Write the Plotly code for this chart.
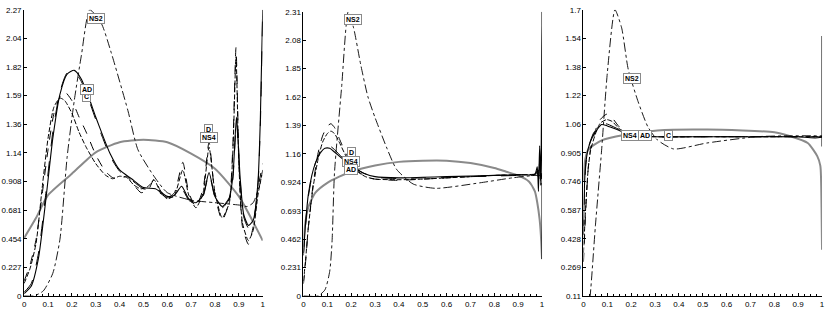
import plotly.graph_objects as go

# ---------------- data ----------------
# Panel 1
P1_X_EXACT = [0, 0.05, 0.1, 0.2, 0.3, 0.4, 0.5, 0.6, 0.7, 0.8, 0.9, 1.0]
P1_Y_EXACT = [0.46, 0.62, 0.80, 0.97, 1.14, 1.22, 1.24, 1.22, 1.13, 1.01, 0.79, 0.44]

P1_X_C = [0, 0.03, 0.06, 0.09, 0.12, 0.15, 0.18, 0.21, 0.24, 0.27, 0.30, 0.33, 0.36, 0.40, 0.45, 0.50,
          0.55, 0.60, 0.63, 0.66, 0.69, 0.72, 0.75, 0.775, 0.80, 0.83, 0.86, 0.875, 0.89, 0.905, 0.92,
          0.94, 0.96, 0.98, 0.99, 1.0]
P1_Y_C = [0.02, 0.08, 0.30, 0.75, 1.25, 1.60, 1.76, 1.79, 1.72, 1.58, 1.42, 1.27, 1.13, 1.00, 0.93, 0.86,
          0.85, 0.79, 0.80, 0.87, 0.77, 0.74, 0.80, 0.98, 0.79, 0.71, 0.78, 0.95, 1.42, 0.95, 0.65,
          0.56, 0.60, 0.90, 1.40, 2.27]
P1_Y_AD = [0.03, 0.10, 0.34, 0.80, 1.30, 1.62, 1.77, 1.78, 1.70, 1.56, 1.40, 1.25, 1.11, 0.99, 0.92, 0.85,
           0.84, 0.78, 0.79, 0.85, 0.76, 0.73, 0.79, 0.97, 0.78, 0.70, 0.77, 0.93, 1.38, 0.93, 0.63,
           0.54, 0.58, 0.88, 1.35, 2.27]

P1_X_D = [0, 0.025, 0.05, 0.075, 0.1, 0.125, 0.15, 0.17, 0.2, 0.23, 0.26, 0.3, 0.34, 0.37, 0.4, 0.43,
          0.46, 0.49, 0.52, 0.545, 0.57, 0.6, 0.63, 0.665, 0.69, 0.72, 0.75, 0.775, 0.80, 0.83, 0.86,
          0.875, 0.888, 0.90, 0.915, 0.94, 0.96, 0.98, 1.0]
P1_Y_D = [0.12, 0.25, 0.45, 0.80, 1.16, 1.45, 1.58, 1.62, 1.55, 1.42, 1.30, 1.12, 0.99, 0.94, 0.93, 0.95,
          0.88, 0.82, 0.84, 0.93, 0.84, 0.78, 0.82, 1.06, 0.82, 0.71, 0.85, 1.22, 0.80, 0.60, 0.75,
          1.20, 1.97, 1.10, 0.55, 0.41, 0.55, 0.85, 1.05]
P1_Y_NS4 = [0.10, 0.22, 0.42, 0.85, 1.25, 1.50, 1.57, 1.55, 1.45, 1.30, 1.18, 1.05, 0.96, 0.93, 0.95, 0.94,
            0.88, 0.85, 0.87, 0.92, 0.83, 0.77, 0.80, 1.00, 0.80, 0.70, 0.82, 1.18, 0.82, 0.62, 0.74,
            1.15, 1.90, 1.05, 0.58, 0.44, 0.52, 0.80, 1.00]

P1_X_NS2 = [0, 0.04, 0.08, 0.12, 0.15, 0.18, 0.21, 0.24, 0.275, 0.324, 0.365, 0.435, 0.477, 0.546,
            0.6, 0.7, 0.8, 0.907, 0.935, 0.96, 0.99, 1.0]
P1_Y_NS2 = [0.0, 0.0, 0.04, 0.18, 0.45, 1.10, 1.55, 1.91, 2.27, 2.16, 1.93, 1.47, 1.16, 0.945,
            0.82, 0.76, 0.74, 0.72, 0.71, 0.74, 0.90, 1.0]

# Panel 2
P2_X_EXACT = [0, 0.005, 0.02, 0.05, 0.1, 0.15, 0.2, 0.3, 0.4, 0.5, 0.6, 0.7, 0.8, 0.85, 0.9, 0.945,
              0.97, 0.98, 0.99, 0.995, 1.0]
P2_Y_EXACT = [0.40, 0.55, 0.72, 0.84, 0.92, 0.97, 1.01, 1.06, 1.09, 1.10, 1.10, 1.08, 1.04, 1.01, 0.98,
              0.93, 0.85, 0.76, 0.62, 0.50, 0.30]

P2_X_C = [0, 0.01, 0.02, 0.035, 0.05, 0.07, 0.09, 0.11, 0.13, 0.16, 0.2, 0.25, 0.3, 0.4, 0.5, 0.6,
          0.7, 0.8, 0.9, 0.97, 0.98, 0.985, 0.99, 0.995, 1.0, 1.0]
P2_Y_C = [0.35, 0.62, 0.82, 0.98, 1.08, 1.16, 1.20, 1.20, 1.17, 1.12, 1.06, 1.00, 0.97, 0.96, 0.965,
          0.97, 0.975, 0.98, 0.985, 0.99, 1.05, 0.85, 1.22, 0.95, 2.31, 0.30]
P2_Y_AD = [0.33, 0.60, 0.80, 0.97, 1.08, 1.17, 1.22, 1.22, 1.19, 1.13, 1.06, 1.00, 0.965, 0.955, 0.96,
           0.965, 0.97, 0.975, 0.98, 0.985, 1.02, 0.90, 1.10, 0.95, 1.0, 1.0]

P2_X_D = [0, 0.01, 0.02, 0.04, 0.06, 0.08, 0.1, 0.115, 0.13, 0.15, 0.18, 0.22, 0.26, 0.3, 0.4, 0.5,
          0.6, 0.7, 0.8, 0.9, 0.97, 0.985, 0.99, 0.995, 1.0]
P2_Y_D = [0.10, 0.30, 0.55, 0.90, 1.15, 1.30, 1.38, 1.40, 1.37, 1.28, 1.15, 1.03, 0.97, 0.95, 0.94, 0.95,
          0.96, 0.97, 0.98, 0.985, 0.99, 1.02, 1.10, 0.90, 1.0]
P2_Y_NS4 = [0.12, 0.32, 0.55, 0.88, 1.10, 1.25, 1.32, 1.34, 1.32, 1.25, 1.13, 1.02, 0.97, 0.95, 0.945,
            0.95, 0.96, 0.97, 0.98, 0.985, 0.99, 1.0, 1.05, 0.95, 1.0]

P2_X_NS2 = [0, 0.06, 0.09, 0.11, 0.12, 0.13, 0.16, 0.1875, 0.21, 0.24, 0.27, 0.30, 0.35, 0.39, 0.46,
            0.555, 0.74, 0.875, 0.97, 1.0]
P2_Y_NS2 = [0.0, 0.0, 0.05, 0.20, 0.45, 1.00, 1.70, 2.31, 2.18, 1.88, 1.62, 1.45, 1.20, 1.03, 0.91,
            0.875, 0.92, 0.96, 0.98, 0.98]

# Panel 3
P3_X_EXACT = [0, 0.005, 0.02, 0.076, 0.17, 0.31, 0.52, 0.80, 0.86, 0.94, 0.98, 0.993, 0.998, 1.0]
P3_Y_EXACT = [0.75, 0.85, 0.923, 0.975, 1.005, 1.03, 1.035, 1.02, 1.0, 0.96, 0.887, 0.833, 0.6, 0.367]

P3_X_C = [0, 0.005, 0.01, 0.02, 0.04, 0.06, 0.076, 0.1, 0.15, 0.2, 0.3, 0.5, 0.7, 0.9, 1.0, 1.0, 1.0]
P3_Y_C = [0.50, 0.75, 0.85, 0.93, 1.0, 1.04, 1.063, 1.055, 1.03, 1.005, 0.995, 0.995, 0.995, 0.995,
          0.995, 1.555, 0.94]
P3_Y_AD = [0.45, 0.72, 0.84, 0.93, 1.01, 1.05, 1.07, 1.065, 1.035, 1.005, 0.995, 0.995, 0.995, 0.995,
           0.995, 0.995, 0.995]

P3_X_D = [0, 0.01, 0.02, 0.03, 0.05, 0.07, 0.097, 0.12, 0.15, 0.2, 0.3, 0.5, 0.7, 0.9, 1.0]
P3_Y_D = [0.30, 0.60, 0.82, 0.93, 1.03, 1.09, 1.12, 1.10, 1.05, 1.01, 0.995, 0.995, 0.995, 0.995, 0.995]
P3_Y_NS4 = [0.35, 0.62, 0.82, 0.92, 1.01, 1.07, 1.09, 1.08, 1.04, 1.005, 0.995, 0.995, 0.995, 0.995, 0.995]

P3_X_NS2 = [0, 0.028, 0.05, 0.076, 0.1, 0.132, 0.16, 0.1875, 0.229, 0.27, 0.31, 0.378, 0.517, 0.726,
            0.865, 1.0]
P3_Y_NS2 = [-0.2, 0.11, 0.50, 0.92, 1.35, 1.70, 1.60, 1.37, 1.19, 1.05, 0.977, 0.927, 0.96, 0.995,
            1.0, 1.0]

# axes
X_TICKS = [0, 0.1, 0.2, 0.3, 0.4, 0.5, 0.6, 0.7, 0.8, 0.9, 1.0]
X_TICKTEXT = ["0", "0.1", "0.2", "0.3", "0.4", "0.5", "0.6", "0.7", "0.8", "0.9", "1"]
Y1_RANGE = [0, 2.27]
Y1_TICKTEXT = ["0", "0.227", "0.454", "0.681", "0.908", "1.14", "1.36", "1.59", "1.82", "2.04", "2.27"]
Y2_RANGE = [0, 2.31]
Y2_TICKTEXT = ["0", "0.231", "0.462", "0.693", "0.924", "1.16", "1.39", "1.62", "1.85", "2.08", "2.31"]
Y3_RANGE = [0.11, 1.7]
Y3_TICKTEXT = ["0.11", "0.269", "0.428", "0.587", "0.746", "0.905", "1.06", "1.22", "1.38", "1.54", "1.7"]

# labels: (text, x, y)
P1_LABELS = [("NS2", 0.30, 2.20), ("C", 0.263, 1.585), ("AD", 0.263, 1.64), ("D", 0.774, 1.32), ("NS4", 0.774, 1.26)]
P2_LABELS = [("NS2", 0.206, 2.245), ("D", 0.2, 1.163), ("NS4", 0.2, 1.095), ("AD", 0.2, 1.03)]
P3_LABELS = [("NS2", 0.204, 1.316), ("NS4", 0.194, 1.004), ("AD", 0.257, 0.999), ("C", 0.358, 0.999)]

# ---------------- figure ----------------
GRAY = "#8a8a8a"
styles = {
    "exact": dict(color=GRAY, width=2, dash="solid"),
    "C": dict(color="black", width=1.1, dash="solid"),
    "AD": dict(color="black", width=1.0, dash="longdash"),
    "D": dict(color="black", width=1.0, dash="dash"),
    "NS4": dict(color="black", width=1.0, dash="5px,2px,5px,2px"),
    "NS2": dict(color="black", width=0.9, dash="dashdot"),
}

panels = [
    dict(ax="", ex=(P1_X_EXACT, P1_Y_EXACT), c=(P1_X_C, P1_Y_C), ad=(P1_X_C, P1_Y_AD),
         d=(P1_X_D, P1_Y_D), ns4=(P1_X_D, P1_Y_NS4), ns2=(P1_X_NS2, P1_Y_NS2), labels=P1_LABELS),
    dict(ax="2", ex=(P2_X_EXACT, P2_Y_EXACT), c=(P2_X_C, P2_Y_C), ad=(P2_X_C, P2_Y_AD),
         d=(P2_X_D, P2_Y_D), ns4=(P2_X_D, P2_Y_NS4), ns2=(P2_X_NS2, P2_Y_NS2), labels=P2_LABELS),
    dict(ax="3", ex=(P3_X_EXACT, P3_Y_EXACT), c=(P3_X_C, P3_Y_C), ad=(P3_X_C, P3_Y_AD),
         d=(P3_X_D, P3_Y_D), ns4=(P3_X_D, P3_Y_NS4), ns2=(P3_X_NS2, P3_Y_NS2), labels=P3_LABELS),
]

fig = go.Figure()
annotations = []
for p in panels:
    xa = "x" + p["ax"]
    ya = "y" + p["ax"]
    for key, name in [("ex", "exact"), ("ns2", "NS2"), ("ns4", "NS4"), ("d", "D"), ("ad", "AD"), ("c", "C")]:
        xs, ys = p[key]
        fig.add_trace(go.Scatter(x=xs, y=ys, mode="lines", name=name, xaxis=xa, yaxis=ya,
                                 line=dict(shape="spline", smoothing=0.6, **styles[name]),
                                 showlegend=False, hoverinfo="skip"))
    for txt, lx, ly in p["labels"]:
        annotations.append(dict(text="<b>%s</b>" % txt, x=lx, y=ly, xref=xa, yref=ya, showarrow=False,
                                font=dict(size=7, color="black", family="Liberation Sans, Arial"),
                                bgcolor="white", bordercolor="#8a8a8a", borderwidth=1, borderpad=1))

W, H = 830, 311
def xd(a, b):
    return [a / W, b / W]
def yd(top, bottom):
    return [1 - bottom / H, 1 - top / H]

axis_common = dict(showline=True, linecolor="black", linewidth=1, ticks="inside", ticklen=3,
                   tickcolor="black", showgrid=False, zeroline=False,
                   tickfont=dict(size=8, color="black", family="Liberation Sans, Arial"))

xdomains = [xd(22.3, 262.3), xd(303.3, 543.3), xd(585, 825)]
ydomains = [yd(6, 300.7), yd(8, 300.7), yd(6, 300.7)]
yranges = [Y1_RANGE, Y2_RANGE, Y3_RANGE]
yticktexts = [Y1_TICKTEXT, Y2_TICKTEXT, Y3_TICKTEXT]

layout = dict(width=W, height=H, margin=dict(l=0, r=0, t=0, b=0), paper_bgcolor="white",
              plot_bgcolor="white", annotations=annotations, showlegend=False)
for i in range(3):
    suf = "" if i == 0 else str(i + 1)
    lo, hi = yranges[i]
    tv = [lo + (hi - lo) * k / 10 for k in range(11)]
    layout["xaxis" + suf] = dict(domain=xdomains[i], range=[0, 1], anchor="y" + suf,
                                 tickvals=X_TICKS, ticktext=X_TICKTEXT,
                                 minor=dict(ticks="inside", ticklen=2, dtick=0.025, tickcolor="black"),
                                 **axis_common)
    layout["yaxis" + suf] = dict(domain=ydomains[i], range=[lo, hi], anchor="x" + suf,
                                 tickvals=tv, ticktext=yticktexts[i], **axis_common)

fig.update_layout(**layout)
fig.write_html("out.html", config={"displayModeBar": False},
               post_script="document.body.style.margin='0';document.body.style.overflow='hidden';")
